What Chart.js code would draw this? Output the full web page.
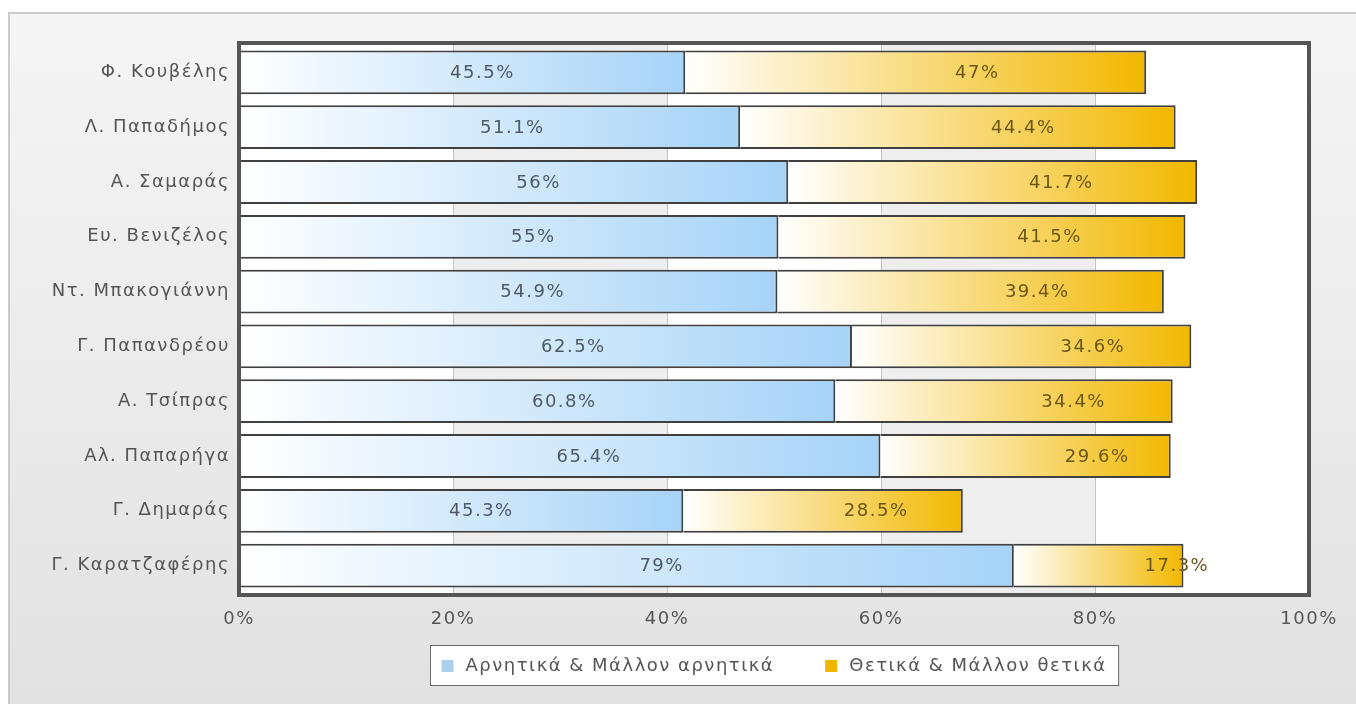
<!DOCTYPE html>
<html>
<head>
<meta charset="utf-8">
<title>Αρνητικά / Θετικά</title>
<script src="https://cdn.jsdelivr.net/npm/chart.js@4.4.0/dist/chart.umd.min.js"></script>
<style>
    html, body { margin: 0; padding: 0; background: #fff; }
    #panel {
        position: absolute; left: 8px; top: 12px; width: 1348px; height: 692px;
        box-sizing: border-box;
        border-left: 2px solid #cbcbcb; border-top: 2px solid #cbcbcb;
        background: linear-gradient(#f5f5f5, #e2e2e2);
    }
    #barChart { position: absolute; left: 0; top: 0; }
</style>
</head>
<body>
<div id="panel"></div>
<canvas id="barChart" width="1356" height="704"></canvas>
<script>
// Data
const leaders = ['Φ. Κουβέλης', 'Λ. Παπαδήμος', 'Α. Σαμαράς', 'Ευ. Βενιζέλος', 'Ντ. Μπακογιάννη',
    'Γ. Παπανδρέου', 'Α. Τσίπρας', 'Αλ. Παπαρήγα', 'Γ. Δημαράς', 'Γ. Καρατζαφέρης'];
const negative = [45.5, 51.1, 56, 55, 54.9, 62.5, 60.8, 65.4, 45.3, 79];
const positive = [47, 44.4, 41.7, 41.5, 39.4, 34.6, 34.4, 29.6, 28.5, 17.3];
const seriesNames = ['Αρνητικά & Μάλλον αρνητικά', 'Θετικά & Μάλλον θετικά'];
const tickValues = [0, 20, 40, 60, 80, 100];

// the original draws its bars on a slightly longer axis than the labelled one
const BAR_AXIS_MAX = 109.1;

const FONT = "'DejaVu Sans', Verdana, sans-serif";
const SPACING = '1.5px';
const barEnds = ['#a6d3f7', '#f2b800'];
const swatches = ['#a9d0ef', '#f0b500'];
const labelColors = ['#4e5a66', '#6b5716'];

function segment(d, i) {
    const start = d === 0 ? 0 : negative[i];
    const value = d === 0 ? negative[i] : positive[i];
    return [start, start + value];
}

function barFill(d) {
    return function (c) {
        const chart = c.chart;
        const xb = chart.scales.xb;
        if (!xb || !chart.chartArea || c.dataIndex === undefined) return barEnds[d];
        const [s, e] = segment(d, c.dataIndex);
        const g = chart.ctx.createLinearGradient(xb.getPixelForValue(s), 0, xb.getPixelForValue(e), 0);
        g.addColorStop(0, '#ffffff');
        g.addColorStop(1, barEnds[d]);
        return g;
    };
}

// bands, frame, value labels and the boxed legend
const decorations = {
    id: 'decorations',
    beforeUpdate(chart) { chart.ctx.letterSpacing = SPACING; },
    beforeDraw(chart) {
        const { ctx, chartArea: a, scales: { x } } = chart;
        ctx.letterSpacing = SPACING;
        ctx.save();
        ctx.fillStyle = '#ffffff';
        ctx.fillRect(a.left, a.top, a.width, a.height);
        ctx.fillStyle = '#eeeeee';
        for (let i = 1; i < tickValues.length - 1; i += 2) {
            const x0 = x.getPixelForValue(tickValues[i]);
            const x1 = x.getPixelForValue(tickValues[i + 1]);
            ctx.fillRect(x0, a.top, x1 - x0, a.height);
        }
        ctx.restore();
    },
    afterDatasetsDraw(chart) {
        const { ctx, scales: { x } } = chart;
        ctx.save();
        ctx.font = '18px ' + FONT;
        ctx.textAlign = 'center';
        ctx.textBaseline = 'middle';
        chart.data.datasets.forEach((ds, d) => {
            chart.getDatasetMeta(d).data.forEach((bar, i) => {
                const [s, e] = segment(d, i);
                ctx.fillStyle = labelColors[d];
                ctx.fillText(ds.data[i] + '%', x.getPixelForValue((s + e) / 2), bar.y + 1);
            });
        });
        ctx.restore();
    },
    afterDraw(chart) {
        const { ctx, chartArea: a } = chart;
        ctx.save();
        // plot frame
        ctx.strokeStyle = '#555555';
        ctx.lineWidth = 4;
        ctx.strokeRect(a.left, a.top - 2, a.width, a.height + 4);

        // legend
        ctx.font = '18px ' + FONT;
        ctx.textBaseline = 'middle';
        ctx.textAlign = 'left';
        const sq = 12, gap = 12, itemGap = 51, padL = 11, padR = 12;
        const widths = seriesNames.map(t => ctx.measureText(t).width);
        let total = padL + padR + itemGap * (seriesNames.length - 1);
        widths.forEach(w => { total += sq + gap + w; });
        const boxH = 40, boxTop = 645;
        const boxLeft = Math.round((a.left + a.right) / 2 - total / 2) + 0.5;
        ctx.fillStyle = '#ffffff';
        ctx.fillRect(boxLeft, boxTop + 0.5, total, boxH);
        ctx.strokeStyle = '#6a6a6a';
        ctx.lineWidth = 1;
        ctx.strokeRect(boxLeft, boxTop + 0.5, total, boxH);
        const cy = boxTop + boxH / 2 + 1;
        let cx = boxLeft + padL;
        seriesNames.forEach((t, d) => {
            ctx.fillStyle = swatches[d];
            ctx.fillRect(cx, cy - sq / 2, sq, sq);
            cx += sq + gap;
            ctx.fillStyle = '#555555';
            ctx.fillText(t, cx, cy);
            cx += widths[d] + itemGap;
        });
        ctx.restore();
    }
};

const barCtx = document.getElementById('barChart').getContext('2d');
new Chart(barCtx, {
    type: 'bar',
    data: {
        labels: leaders,
        datasets: [{
            label: seriesNames[0],
            data: negative,
            xAxisID: 'xb',
            backgroundColor: barFill(0),
            borderColor: '#404040',
            borderWidth: 2,
            borderSkipped: 'left',
            barPercentage: 0.8,
            categoryPercentage: 1
        }, {
            label: seriesNames[1],
            data: positive,
            xAxisID: 'xb',
            backgroundColor: barFill(1),
            borderColor: '#404040',
            borderWidth: 2,
            borderSkipped: 'left',
            barPercentage: 0.8,
            categoryPercentage: 1
        }]
    },
    options: {
        indexAxis: 'y',
        responsive: false,
        animation: false,
        layout: { padding: { left: 0, right: 47, top: 45, bottom: 71 } },
        plugins: {
            legend: { display: false },
            tooltip: { enabled: false }
        },
        scales: {
            x: {
                type: 'linear',
                position: 'bottom',
                min: 0,
                max: 100,
                afterBuildTicks: s => { s.ticks = tickValues.map(v => ({ value: v })); },
                afterFit: s => { s.height = 40; },
                ticks: {
                    callback: v => v + '%',
                    color: '#555555',
                    padding: 16,
                    font: { family: FONT, size: 18 }
                },
                grid: { color: '#c4c4c4', lineWidth: 1, drawTicks: false },
                border: { display: false }
            },
            xb: {
                type: 'linear',
                axis: 'x',
                position: 'bottom',
                display: false,
                stacked: true,
                min: 0,
                max: BAR_AXIS_MAX
            },
            y: {
                stacked: true,
                afterFit: s => { s.width = 239; },
                ticks: {
                    color: '#555555',
                    padding: 9,
                    font: { family: FONT, size: 18 }
                },
                grid: { display: false, drawTicks: false },
                border: { display: false }
            }
        }
    },
    plugins: [decorations]
});
</script>
</body>
</html>
